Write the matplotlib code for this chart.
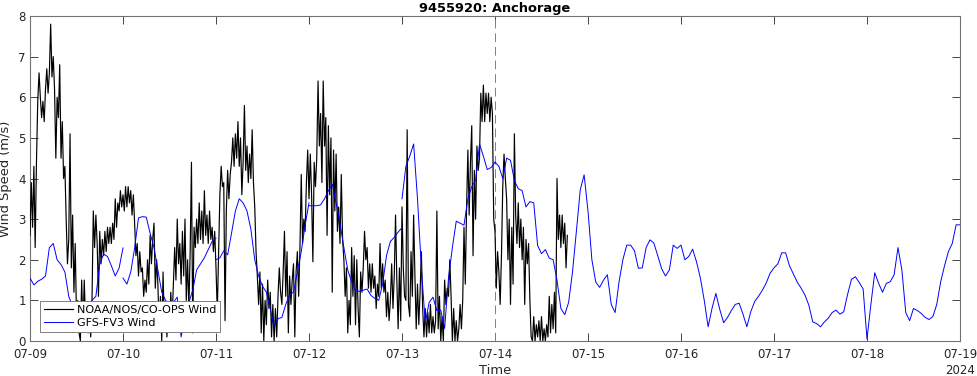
import numpy as np
import pandas as pd
import matplotlib
matplotlib.use("Agg")
import matplotlib.pyplot as plt
import matplotlib.dates as mdates

# ------------------------------------------------------------------
# Data
# ------------------------------------------------------------------
STATION = "9455920: Anchorage"
OBS_START = "2024-07-09 00:00"      # observations, 20-min steps
FCST_START = "2024-07-14 00:00"     # start of forecast (dashed line)

# NOAA/NOS/CO-OPS observed wind speed (m/s), every 20 min
obs_wind = [
    2.6, 3.9, 2.8, 4.3, 2.3, 4.4, 5.9, 6.6, 6.0, 5.5, 5.9, 5.4, 6.2, 6.7, 6.1, 6.6, 7.8, 6.5,
    7.0, 6.2, 4.5, 6.0, 5.5, 6.8, 4.5, 5.4, 4.0, 4.3, 3.0, 1.9, 2.5, 5.1, 1.8, 3.1, 1.2, 2.4,
    0.6, 1.0, 0.2, 0.0, 1.5, 0.3, 1.5, 0.5, 0.9, 0.2, 0.7, 0.1, 1.0, 3.2, 2.3, 3.1, 2.4, 1.1,
    2.7, 1.9, 2.5, 2.1, 2.7, 2.2, 2.8, 2.4, 2.8, 2.4, 2.9, 2.5, 3.5, 2.8, 3.4, 3.2, 3.7, 3.3,
    3.6, 3.2, 3.8, 3.3, 3.8, 3.4, 3.7, 3.1, 3.6, 2.9, 2.1, 2.4, 1.6, 2.2, 1.7, 1.8, 1.1, 1.5,
    1.2, 2.0, 1.4, 2.6, 1.9, 2.5, 2.9, 1.3, 2.0, 1.4, 0.3, 1.1, 0.0, 1.7, 0.4, 0.9, 0.1, 0.8,
    0.3, 1.2, 0.5, 1.4, 2.3, 1.5, 3.0, 1.9, 2.4, 1.4, 2.7, 1.6, 3.0, 1.0, 2.0, 0.8, 2.2, 4.4,
    0.2, 2.8, 2.3, 3.0, 2.4, 3.4, 2.5, 3.2, 2.4, 3.7, 2.6, 3.1, 2.4, 3.2, 2.5, 2.8, 2.2, 2.7,
    1.8, 0.7, 2.1, 3.6, 4.3, 3.8, 3.9, 0.5, 3.2, 4.2, 3.5, 4.1, 4.4, 5.0, 4.3, 5.1, 4.5, 5.4,
    4.3, 5.0, 3.6, 4.4, 5.8, 4.2, 4.8, 3.9, 4.6, 4.0, 5.2, 3.9, 3.3, 2.2, 1.6, 0.9, 1.7, 0.2,
    1.4, 0.0, 1.0, 0.4, 1.5, 0.8, 1.2, 0.1, 0.9, 0.0, 0.8, 0.1, 1.1, 1.8, 1.2, 0.9, 1.7, 2.7,
    1.1, 2.2, 0.2, 1.6, 0.9, 1.5, 1.9, 0.1, 1.7, 2.2, 1.1, 2.3, 4.1, 2.4, 3.0, 2.7, 3.9, 4.7,
    3.5, 4.6, 3.6, 1.95, 4.4, 3.8, 4.5, 6.4, 4.8, 5.6, 3.9, 6.4, 4.8, 5.5, 2.6, 5.3, 3.6, 5.0,
    1.2, 4.7, 3.2, 4.6, 2.7, 3.3, 2.4, 4.1, 2.5, 2.0, 1.1, 1.8, 0.2, 1.0, 0.4, 2.3, 1.1, 2.1,
    0.4, 2.0, 0.8, 0.1, 1.7, 1.2, 1.8, 2.7, 2.0, 2.3, 1.3, 1.9, 1.2, 1.9, 1.3, 1.6, 0.8, 1.4,
    1.1, 2.4, 1.3, 1.9, 1.2, 1.5, 0.6, 1.2, 0.5, 1.0, 1.9, 0.8, 1.6, 3.1, 1.5, 0.3, 1.8, 0.5,
    3.3, 1.8, 1.1, 1.0, 5.2, 0.9, 0.6, 2.2, 1.1, 3.1, 1.6, 0.3, 1.4, 0.4, 1.2, 2.2, 0.8, 0.1,
    0.8, 0.1, 0.7, 0.2, 0.9, 0.2, 0.6, 0.2, 0.5, 3.2, 0.3, 1.1, 0.0, 0.6, 0.0, 1.5, 0.9, 1.3,
    1.1, 2.0, 1.1, 0.0, 0.8, 0.0, 0.5, 0.0, 0.3, 0.9, 0.3, 1.0, 2.8, 1.4, 3.3, 4.7, 3.1, 4.4,
    5.3, 2.1, 4.2, 3.0, 4.8, 4.2, 4.5, 6.1, 5.4, 6.3, 5.4, 6.1, 5.6, 6.1, 5.4, 6.0, 5.6, 3.0,
    2.7, 1.3, 2.2, 1.7, 0.9, 2.1, 3.8, 4.6, 4.0, 3.5, 2.0, 3.0, 0.9, 2.8, 1.4, 5.1, 3.1, 2.4,
    3.4, 2.3, 3.0, 2.0, 2.8, 0.9, 2.5, 1.9, 2.4, 1.0, 0.1, 0.0, 0.6, 0.0, 0.4, 0.1, 0.5, 0.0,
    0.6, 0.0, 0.3, 0.0, 0.4, 0.1, 1.1, 0.2, 0.9, 0.3, 1.2, 0.2, 4.0, 2.5, 3.1, 2.3, 3.1, 2.4,
    2.9, 1.8, 2.6,
]

# GFS-FV3 nowcast, one hourly piece per model cycle (00:00 .. 24:00)
gfs_0709 = [1.55, 1.38, 1.47, 1.52, 1.6, 2.3, 2.4, 2.0, 1.88, 1.7, 1.1, 0.85, 0.7,
            0.6, 0.65, 0.8, 1.0, 1.1, 1.9, 2.14, 2.08, 1.85, 1.6, 1.8, 2.29]
gfs_0710 = [1.55, 1.4, 1.7, 2.29, 3.03, 3.06, 3.05, 2.65, 2.3, 1.75, 1.2, 1.0, 0.9,
            0.95, 1.08, 0.1, 0.6, 0.95, 1.25, 1.75, 1.9, 2.05, 2.25, 2.45, 2.53]
gfs_0711 = [2.0, 2.05, 2.22, 2.12, 2.65, 3.2, 3.5, 3.4, 3.2, 2.75, 2.0, 1.6, 1.35,
            1.2, 0.8, 0.35, 0.55, 0.58, 0.9, 1.15, 1.2, 1.7, 2.2, 2.85, 3.4]
gfs_0712 = [3.33, 3.33, 3.33, 3.35, 3.5, 3.7, 3.86, 3.4, 2.9, 2.3, 1.75, 1.45, 1.25,
            1.22, 1.25, 1.28, 1.12, 1.05, 1.0, 1.4, 2.1, 2.45, 2.55, 2.68, 2.79]
gfs_0713 = [3.5, 4.3, 4.55, 4.85, 3.5, 1.79, 0.45, 0.95, 1.08, 0.75, 0.76, 0.31, 1.55,
            2.3, 2.95, 2.9, 2.85, 3.5, 3.8, 3.95, 4.85, 4.55, 4.22, 4.27, 4.4]
# GFS-FV3 forecast, hourly 07-14 00:00 .. 07-19 00:00
gfs_fcst = [
    4.4, 4.3, 4.0, 4.5, 4.45, 3.95, 3.75, 3.7, 3.3, 3.43, 3.4, 2.35,
    2.15, 2.25, 2.04, 2.0, 1.5, 0.8, 0.65, 0.95, 1.7, 2.7, 3.72, 4.09,
    3.2, 2.0, 1.45, 1.32, 1.5, 1.63, 0.9, 0.7, 1.45, 2.0, 2.36, 2.36,
    2.22, 1.79, 1.8, 2.3, 2.49, 2.41, 2.1, 1.78, 1.6, 1.75, 2.36, 2.28,
    2.36, 2.0, 2.08, 2.26, 1.95, 1.55, 1.0, 0.35, 0.8, 1.17, 0.78, 0.45,
    0.58, 0.75, 0.9, 0.93, 0.66, 0.35, 0.72, 0.97, 1.1, 1.25, 1.43, 1.67,
    1.8, 1.9, 2.17, 2.17, 1.85, 1.65, 1.45, 1.3, 1.13, 0.88, 0.47, 0.43,
    0.35, 0.47, 0.56, 0.7, 0.76, 0.66, 0.72, 1.15, 1.52, 1.58, 1.44, 1.28,
    0.05, 0.9, 1.68, 1.42, 1.2, 1.42, 1.46, 1.63, 2.3, 1.75, 0.7, 0.5,
    0.8, 0.75, 0.68, 0.58, 0.53, 0.6, 0.9, 1.45, 1.85, 2.2, 2.4, 2.86,
    2.86,
]
nowcast_days = ["2024-07-09", "2024-07-10", "2024-07-11", "2024-07-12", "2024-07-13"]
nowcast_vals = [gfs_0709, gfs_0710, gfs_0711, gfs_0712, gfs_0713]

# ------------------------------------------------------------------
# Plot
# ------------------------------------------------------------------
plt.rcParams["font.family"] = "DejaVu Sans"
AX_COLOR = "0.15"

fig = plt.figure(figsize=(9.77, 3.76), dpi=100)
ax = fig.add_axes([30 / 977, 35 / 376, 930 / 977, 325 / 376])

obs_t = pd.date_range(OBS_START, periods=len(obs_wind), freq="20min")
ax.plot(obs_t, obs_wind, color="black", lw=0.85, label="NOAA/NOS/CO-OPS Wind", zorder=3)

for i, (day, vals) in enumerate(zip(nowcast_days, nowcast_vals)):
    t = pd.date_range(day, periods=len(vals), freq="h")
    ax.plot(t, vals, color="blue", lw=0.7, zorder=4,
            label="GFS-FV3 Wind" if i == 0 else None)
fc_t = pd.date_range(FCST_START, periods=len(gfs_fcst), freq="h")
ax.plot(fc_t, gfs_fcst, color="blue", lw=0.7, zorder=4)

ax.axvline(pd.Timestamp(FCST_START), color="0.5", lw=0.7, ls=(0, (9, 5)), zorder=2)

# axes
ax.set_xlim(pd.Timestamp("2024-07-09"), pd.Timestamp("2024-07-19"))
ax.set_ylim(0, 8)
ax.set_yticks(range(0, 9))
ax.xaxis.set_major_locator(mdates.DayLocator())
ax.xaxis.set_major_formatter(mdates.DateFormatter("%m-%d"))
ax.tick_params(direction="in", length=6, width=0.6, top=True, right=True,
               labelsize=8.5, colors=AX_COLOR)
ax.tick_params(axis="x", pad=5)
ax.tick_params(axis="y", pad=3)
for sp in ax.spines.values():
    sp.set_color("0.45")
    sp.set_linewidth(0.8)

ax.set_title(STATION, fontsize=9.4, fontweight="bold", pad=3)
ax.set_xlabel("Time", fontsize=9.4, color=AX_COLOR)
ax.set_ylabel("Wind Speed (m/s)", fontsize=9.4, color=AX_COLOR)
ax.xaxis.set_label_coords(0.5, -0.07)
ax.yaxis.set_label_coords(-0.019, 0.5)
ax.annotate("2024", xy=(1.0, 0.0), xycoords="axes fraction", xytext=(0, -21.5),
            textcoords="offset points", ha="center", va="center",
            fontsize=8.5, color=AX_COLOR)

leg = ax.legend(loc="lower left", bbox_to_anchor=(10 / 930, 9 / 325), borderaxespad=0,
                fontsize=8, frameon=True, fancybox=False, framealpha=1,
                edgecolor="0.5", handlelength=2.6, handletextpad=0.35,
                borderpad=0.35, labelspacing=0.25)
leg.get_frame().set_linewidth(0.7)
leg.set_zorder(10)

fig.savefig("out.png", dpi=100)
